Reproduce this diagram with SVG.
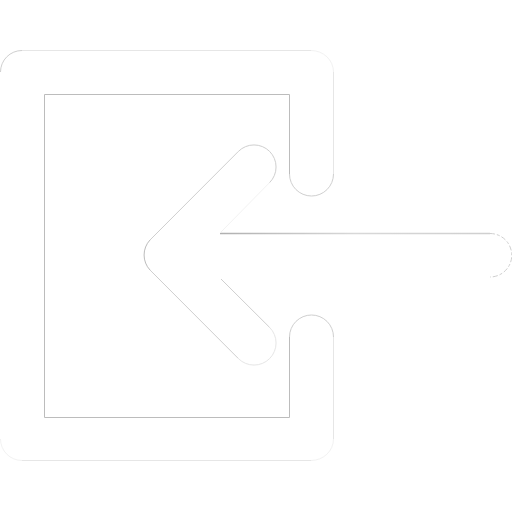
<svg xmlns="http://www.w3.org/2000/svg" width="512" height="512" viewBox="0 0 512 512">
<defs>
<linearGradient id="shaft" gradientUnits="userSpaceOnUse" x1="220" y1="0" x2="490" y2="0"><stop offset="0" stop-color="#b0b0b0"/><stop offset="0.5" stop-color="#d8d8d8"/><stop offset="1" stop-color="#cfcfcf"/></linearGradient>
</defs>
<style>
.e{fill:none;stroke-width:1}
.dark{stroke:#bcbcbc}
.mid{stroke:#cfcfcf}
.light{stroke:#e6e6e6}
.faint{stroke:#f2f2f2}
</style>
<rect width="512" height="512" fill="#fff"/>
<g id="frame">
<path class="e light" d="M22 50.500H311"/>
<path class="e mid" d="M0.500 72A21.500 21.500 0 0 1 22 50.500"/>
<path class="e faint" d="M311 50.500A22.500 21.500 0 0 1 333.500 72"/>
<path class="e light" d="M333.500 72V174"/>
<path class="e mid" d="M333.500 174A22 22 0 0 1 289.500 174"/>
<path class="e dark" d="M289.500 174V94.500H44.500V417.500H289.500V337"/>
<path class="e mid" d="M289.500 337A22 22 0 0 1 333.500 337"/>
<path class="e light" d="M333.500 337V439"/>
<path class="e faint" d="M333.500 439A22.500 21.500 0 0 1 311 460.500"/>
<path class="e light" d="M311 460.500H22"/>
<path class="e faint" d="M22 460.500A21.500 21.500 0 0 1 0.500 439"/>
</g>
<g id="arrow">
<path fill="none" stroke="url(#shaft)" stroke-width="1.300" d="M220 233.500H490"/>
<path class="e mid" stroke-dasharray="5 2 3 2" d="M490 233.500A21.750 21.750 0 0 1 490 277"/>
<path class="e faint" d="M220 233L269.600 182.600"/>
<path class="e mid" d="M269.600 182.600A22 22 0 0 0 238.400 151.400"/>
<path class="e mid" d="M238.400 151.400L150 240"/>
<path class="e dark" d="M150 240A22 22 0 0 0 150 270"/>
<path class="e mid" d="M150 270L238.400 358.600"/>
<path class="e light" d="M238.400 358.600A22 22 0 0 0 269.600 327.400"/>
<path class="e mid" d="M269.600 327.400L221 279"/>
</g>
</svg>
